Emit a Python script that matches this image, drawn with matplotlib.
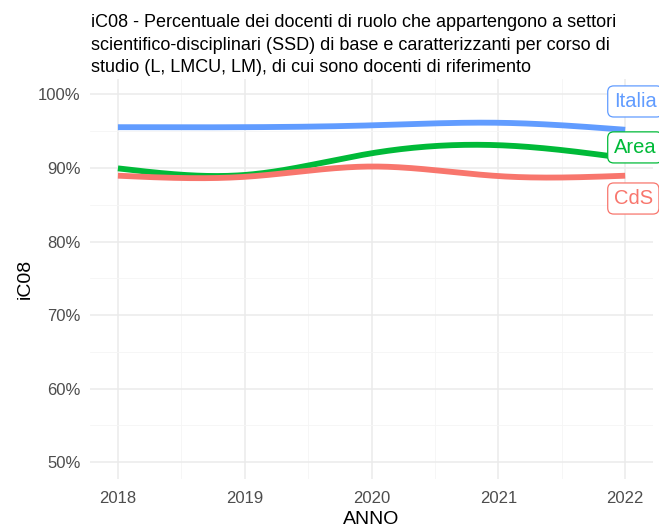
import numpy as np
import matplotlib.pyplot as plt
from matplotlib.ticker import FuncFormatter, MultipleLocator

plt.rcParams['font.family'] = ['Liberation Sans', 'DejaVu Sans']

anni = [2018, 2019, 2020, 2021, 2022]
italia = [95.55, 95.55, 95.8, 96.15, 95.2]
area = [89.95, 89.05, 92.0, 93.1, 91.35]
cds = [88.95, 88.8, 90.2, 88.9, 88.95]

serie = [("Italia", italia, "#619CFF", 99.05),
         ("Area", area, "#00BA38", 92.8),
         ("CdS", cds, "#F8766D", 85.85)]


def spline(x, y, n=200):
    # natural cubic spline, only for drawing the smooth line
    x = np.asarray(x, float)
    y = np.asarray(y, float)
    k = len(x)
    h = np.diff(x)
    A = np.zeros((k, k))
    b = np.zeros(k)
    A[0, 0] = A[-1, -1] = 1
    for i in range(1, k - 1):
        A[i, i - 1] = h[i - 1]
        A[i, i] = 2 * (h[i - 1] + h[i])
        A[i, i + 1] = h[i]
        b[i] = 6 * ((y[i + 1] - y[i]) / h[i] - (y[i] - y[i - 1]) / h[i - 1])
    m = np.linalg.solve(A, b)
    xs = np.linspace(x[0], x[-1], n)
    idx = np.clip(np.searchsorted(x, xs) - 1, 0, k - 2)
    t = xs - x[idx]
    hi = h[idx]
    a = y[idx]
    bb = (y[idx + 1] - y[idx]) / hi - hi * (2 * m[idx] + m[idx + 1]) / 6
    c = m[idx] / 2
    d = (m[idx + 1] - m[idx]) / (6 * hi)
    return xs, a + bb * t + c * t ** 2 + d * t ** 3


fig = plt.figure(figsize=(6.59, 5.3), dpi=100)
ax = fig.add_axes([0.1366, 0.0962, 0.8544, 0.7547])

for nome, vals, col, ylab in serie:
    xs, ys = spline(anni, vals)
    ax.plot(xs, ys, color=col, lw=4.2, solid_capstyle='butt', zorder=3)
    ax.text(2021.91, ylab, nome, color=col, fontsize=14.5, ha='left', va='center',
            zorder=4, clip_on=False,
            bbox=dict(boxstyle='round,pad=0.3,rounding_size=0.3', fc='white', ec=col, lw=0.9))

ax.set_xlim(2017.78, 2022.22)
ax.set_ylim(47.7, 102.1)
ax.xaxis.set_major_locator(MultipleLocator(1))
ax.xaxis.set_minor_locator(MultipleLocator(0.5))
ax.yaxis.set_major_locator(MultipleLocator(10))
ax.yaxis.set_minor_locator(MultipleLocator(5))
ax.yaxis.set_major_formatter(FuncFormatter(lambda v, p: f"{v:.0f}%"))
ax.grid(True, which='major', color='#EBEBEB', lw=1.1)
ax.grid(True, which='minor', color='#F5F5F5', lw=0.6)
ax.set_axisbelow(True)
for s in ax.spines.values():
    s.set_visible(False)
ax.tick_params(which='both', length=0, labelsize=12, labelcolor='#4D4D4D')
ax.tick_params(axis='x', pad=8.5)
ax.tick_params(axis='y', pad=7)

ax.set_xlabel("ANNO", fontsize=14, labelpad=4)
ax.set_ylabel("iC08", fontsize=14, labelpad=3)

fig.text(0.138, 0.974,
         "iC08 - Percentuale dei docenti di ruolo che appartengono a settori\n"
         "scientifico-disciplinari (SSD) di base e caratterizzanti per corso di\n"
         "studio (L, LMCU, LM), di cui sono docenti di riferimento",
         fontsize=13, va='top', ha='left', linespacing=1.45)

fig.savefig("out.png", dpi=100)
